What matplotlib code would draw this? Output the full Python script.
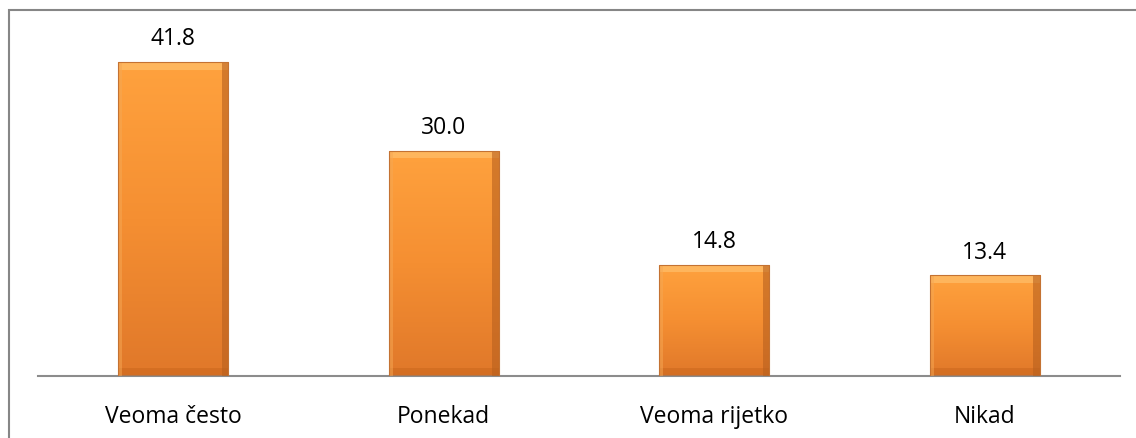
import numpy as np
import matplotlib
matplotlib.use("Agg")
import matplotlib.pyplot as plt
from matplotlib.patches import Rectangle
from matplotlib.colors import LinearSegmentedColormap

# Datos del gráfico
categorias = ["Veoma često", "Ponekad", "Veoma rijetko", "Nikad"]
valores = [41.8, 30.0, 14.8, 13.4]
etiquetas = ["41.8", "30.0", "14.8", "13.4"]

plt.rcParams['font.family'] = ['Open Sans', 'DejaVu Sans']

fig = plt.figure(figsize=(11.36, 4.39), dpi=100)
ax = fig.add_axes([38 / 1136, 1 - 377 / 439, (1120 - 38) / 1136, (377 - 10) / 439])

x = np.arange(len(categorias))
ancho = 0.407
barras = ax.bar(x, valores, width=ancho, color="none", edgecolor="none")

# Degradado naranja dentro de cada barra
degradado = LinearSegmentedColormap.from_list("naranja", ["#e0782a", "#f58f32", "#ffa23e"])
grad = np.linspace(0, 1, 256).reshape(-1, 1)
for b in barras:
    x0, y0 = b.get_x(), b.get_y()
    w, h = b.get_width(), b.get_height()
    im = ax.imshow(grad, cmap=degradado, origin="lower", aspect="auto",
                   extent=[x0, x0 + w, y0, y0 + h], zorder=2)
    im.set_clip_path(b)
    # Biseles: arriba claro, abajo y lados oscuros
    bh = 1.0
    bw = 0.025
    ax.add_patch(Rectangle((x0, y0 + h - bh), w, bh, color="#ffc878", alpha=0.55, zorder=3, lw=0))
    ax.add_patch(Rectangle((x0, y0), w, bh, color="#c9661c", alpha=0.5, zorder=3, lw=0))
    ax.add_patch(Rectangle((x0 + w - bw, y0), bw, h, color="#b8601e", alpha=0.6, zorder=3, lw=0))
    ax.add_patch(Rectangle((x0, y0), bw * 0.6, h, color="#f5a855", alpha=0.5, zorder=3, lw=0))
    ax.add_patch(Rectangle((x0, y0), w, h, fill=False, edgecolor="#c47232", lw=0.8, zorder=4))

for xi, v, t in zip(x, valores, etiquetas):
    ax.text(xi, v + 3.15, t, ha="center", va="center", fontsize=16.5, color="#000000")

# Etiquetas de categoría
for xi, c in zip(x, categorias):
    ax.text(xi, -(417 - 377) / 367, c, ha="center", va="center", fontsize=16.5,
            color="#000000", transform=ax.get_xaxis_transform())

ax.set_xlim(-0.5, len(categorias) - 0.5)
ax.set_ylim(0, 367 / 7.51)
ax.set_xticks([])
ax.set_yticks([])
for lado in ["top", "right", "left"]:
    ax.spines[lado].set_visible(False)
ax.spines["bottom"].set_color("#8c8c8c")
ax.spines["bottom"].set_linewidth(1.5)

# Marco gris alrededor
fig.patches.append(Rectangle((8.5 / 1136, -0.1), 1.2, 1 - 10.5 / 439 + 0.1,
                             transform=fig.transFigure, fill=False,
                             edgecolor="#868686", lw=1.5))

fig.savefig("out.png", dpi=100)
plt.close()
